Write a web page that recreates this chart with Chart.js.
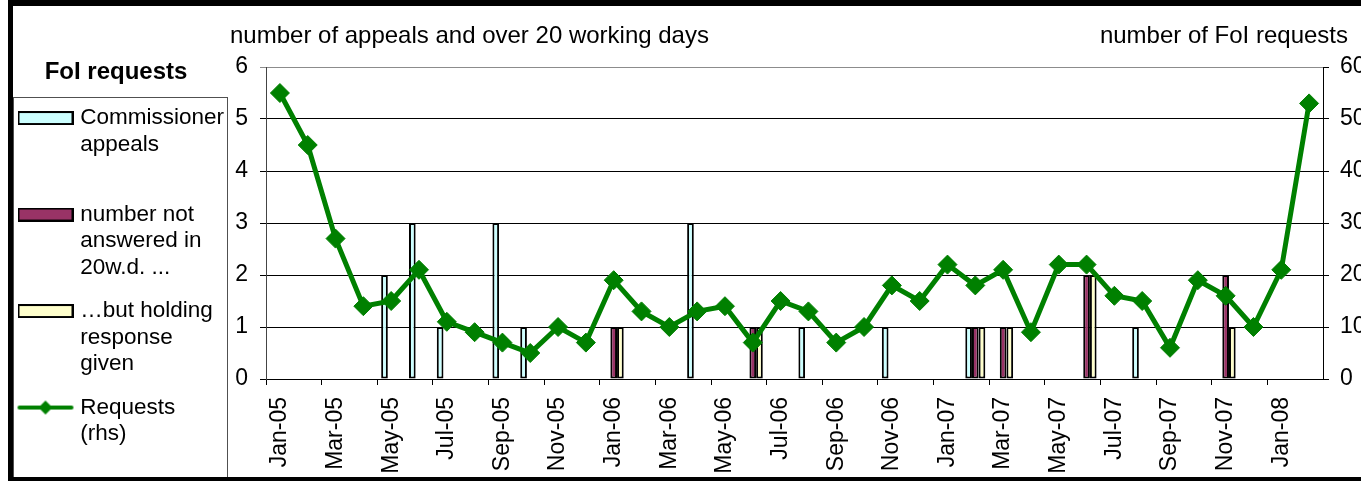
<!DOCTYPE html>
<html>
<head>
<meta charset="utf-8">
<script src="https://cdn.jsdelivr.net/npm/chart.js@4/dist/chart.umd.min.js"></script>
<style>
  html, body { margin: 0; padding: 0; background: #fff; overflow: hidden; width: 1361px; height: 481px; }
  #wrap { position: relative; width: 1361px; height: 481px; overflow: hidden; }
  #c { position: absolute; left: 0; top: 0; }
  #frame { position: absolute; left: 8px; top: 0; width: 2000px; height: 481px; box-sizing: border-box;
           border-left: 5px solid #000; border-top: 6px solid #000; border-bottom: 4px solid #000; pointer-events: none; }
</style>
</head>
<body>
<div id="wrap">
  <canvas id="c" width="1390" height="481"></canvas>
  <div id="frame"></div>
</div>
<script>
// ---- data ----
const months = ['Jan-05','Feb-05','Mar-05','Apr-05','May-05','Jun-05','Jul-05','Aug-05','Sep-05','Oct-05','Nov-05','Dec-05',
                'Jan-06','Feb-06','Mar-06','Apr-06','May-06','Jun-06','Jul-06','Aug-06','Sep-06','Oct-06','Nov-06','Dec-06',
                'Jan-07','Feb-07','Mar-07','Apr-07','May-07','Jun-07','Jul-07','Aug-07','Sep-07','Oct-07','Nov-07','Dec-07',
                'Jan-08','Feb-08'];
const commissionerAppeals = [0,0,0,0,2,3,1,0,3,1,0,0, 0,0,0,3,0,0,0,1,0,0,1,0, 0,1,0,0,0,0,0,1,0,0,0,0, 0,0];
const notAnswered20wd     = [0,0,0,0,0,0,0,0,0,0,0,0, 1,0,0,0,0,1,0,0,0,0,0,0, 0,1,1,0,0,2,0,0,0,0,2,0, 0,0];
const holdingResponse     = [0,0,0,0,0,0,0,0,0,0,0,0, 1,0,0,0,0,1,0,0,0,0,0,0, 0,1,1,0,0,2,0,0,0,0,1,0, 0,0];
const requests            = [55,45,27,14,15,21,11,9,7,5,10,7, 19,13,10,13,14,7,15,13,7,10,18,15, 22,18,21,9,22,22,16,15,6,19,16,10, 21,53];
const leftTicks  = [0,1,2,3,4,5,6];
const rightTicks = [0,10,20,30,40,50,60];
const legendTitle = 'FoI requests';
const legendLabels = [['Commissioner','appeals',''], ['number not','answered in','20w.d. ...'], ['\u2026but holding','response','given'], ['Requests','(rhs)']];
const leftAxisTitle = 'number of appeals and over 20 working days';
const rightAxisTitle = 'number of FoI requests';

const FONT = 'Liberation Sans, Arial, sans-serif';
Chart.defaults.font.family = FONT;
Chart.defaults.font.size = 23;
Chart.defaults.color = '#000';

const colCyan = '#CCFFFF', colMaroon = '#993366', colYellow = '#FFFFCC', colGreen = '#008000';

function boxIcon(fill) {
  const c = document.createElement('canvas'); c.width = 56; c.height = 14;
  const x = c.getContext('2d');
  x.fillStyle = fill; x.fillRect(1, 1, 54, 12);
  x.strokeStyle = '#000'; x.lineWidth = 2; x.strokeRect(1, 1, 54, 12);
  return c;
}
function lineIcon() {
  const c = document.createElement('canvas'); c.width = 58; c.height = 16;
  const x = c.getContext('2d');
  x.strokeStyle = colGreen; x.lineWidth = 4; x.lineCap = 'round';
  x.beginPath(); x.moveTo(3, 8); x.lineTo(55, 8); x.stroke();
  x.fillStyle = colGreen; x.beginPath();
  x.moveTo(29, 1); x.lineTo(36, 8); x.lineTo(29, 15); x.lineTo(22, 8); x.closePath(); x.fill();
  return c;
}
const icons = [boxIcon(colCyan), boxIcon(colMaroon), boxIcon(colYellow), lineIcon()];

const decor = {
  id: 'decor',
  afterDraw(chart) {
    const ctx = chart.ctx;
    ctx.save();
    // legend frame
    ctx.strokeStyle = '#505050'; ctx.lineWidth = 1;
    ctx.strokeRect(13.5, 97.5, 214, 381);
    // axis titles
    ctx.fillStyle = '#000';
    ctx.font = '24px ' + FONT;
    ctx.textBaseline = 'alphabetic';
    ctx.textAlign = 'left';
    ctx.fillText(leftAxisTitle, 230, 43);
    ctx.textAlign = 'right';
    ctx.fillText(rightAxisTitle, 1348, 43);
    ctx.restore();
  }
};

const barCommon = { borderColor: '#000', borderWidth: 2, borderSkipped: false, yAxisID: 'y', categoryPercentage: 0.72, barPercentage: 1.0, order: 1 };

new Chart(document.getElementById('c'), {
  type: 'bar',
  data: {
    labels: months,
    datasets: [
      Object.assign({ label: 'Commissioner appeals', data: commissionerAppeals, backgroundColor: colCyan }, barCommon),
      Object.assign({ label: 'number not answered in 20w.d. ...', data: notAnswered20wd, backgroundColor: colMaroon }, barCommon),
      Object.assign({ label: '...but holding response given', data: holdingResponse, backgroundColor: colYellow }, barCommon),
      { type: 'line', label: 'Requests (rhs)', data: requests, yAxisID: 'y1', order: 0,
        borderColor: colGreen, borderWidth: 5, tension: 0, fill: false,
        pointStyle: 'rectRot', pointRadius: 9.5, pointHoverRadius: 9.5,
        pointBackgroundColor: colGreen, pointBorderColor: colGreen, pointBorderWidth: 1 }
    ]
  },
  options: {
    responsive: false,
    animation: false,
    devicePixelRatio: 1,
    layout: { padding: { top: 7, left: 5, right: 0, bottom: 0 } },
    plugins: {
      tooltip: { enabled: false },
      title: { display: false },
      legend: {
        position: 'left',
        align: 'start',
        maxWidth: 222,
        title: { display: true, text: legendTitle, font: { size: 24, weight: 'bold' }, padding: { top: 53, bottom: 1 } },
        labels: {
          usePointStyle: true,
          pointStyleWidth: 47,
          padding: 17,
          font: { size: 22.5, lineHeight: 1.1778 },
          color: '#000',
          generateLabels: (chart) => chart.data.datasets.map((ds, i) => ({
            text: legendLabels[i], pointStyle: icons[i], datasetIndex: i,
            hidden: !chart.isDatasetVisible(i), fillStyle: 'rgba(0,0,0,0)', strokeStyle: 'rgba(0,0,0,0)', lineWidth: 0, fontColor: '#000'
          }))
        }
      }
    },
    scales: {
      x: {
        type: 'category',
        offset: true,
        grid: { offset: true, drawOnChartArea: false, drawTicks: true, tickLength: 6,
                color: (c) => (c.index !== undefined && c.index % 2 === 0) ? '#000' : 'rgba(0,0,0,0)' },
        border: { display: true, color: '#000', width: 1 },
        ticks: { autoSkip: false, maxRotation: 90, minRotation: 90, padding: 12, font: { size: 23 }, color: '#000',
                 callback: (v, i) => (i % 2 === 0 ? months[i] : '') },
        afterFit: (s) => { s.height = 102; }
      },
      y: {
        position: 'left',
        min: leftTicks[0], max: leftTicks[leftTicks.length - 1],
        afterBuildTicks: (s) => { s.ticks = leftTicks.map(v => ({ value: v })); },
        grid: { drawTicks: true, tickLength: 6, lineWidth: 1,
                color: (c) => (c.tick && c.tick.value === 6) ? '#8c8c8c' : '#000' },
        border: { display: true, color: '#444', width: 1 },
        ticks: { padding: 12, font: { size: 23 }, color: '#000' },
        afterFit: (s) => { s.width = 39; s.paddingTop = 67; }
      },
      y1: {
        position: 'right',
        min: rightTicks[0], max: rightTicks[rightTicks.length - 1],
        afterBuildTicks: (s) => { s.ticks = rightTicks.map(v => ({ value: v })); },
        grid: { drawOnChartArea: false, drawTicks: true, tickLength: 6, color: '#000' },
        border: { display: true, color: '#000', width: 1 },
        ticks: { padding: 11, font: { size: 23 }, color: '#000' },
        afterFit: (s) => { s.width = 67; }
      }
    }
  },
  plugins: [decor]
});
</script>
</body>
</html>
